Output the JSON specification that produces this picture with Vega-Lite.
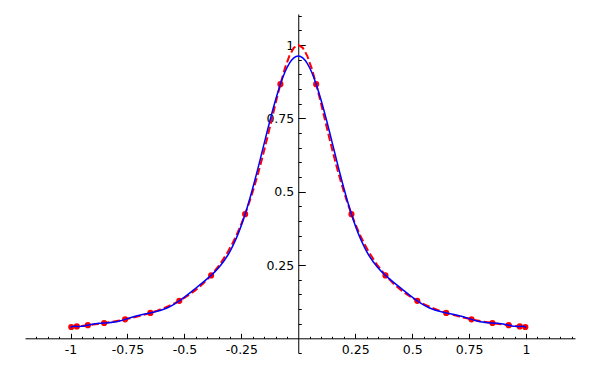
{
"$schema": "https://vega.github.io/schema/vega-lite/v6.json",
"width": 550,
"height": 339,
"autosize": {"type": "none"},
"padding": {"left": 25, "top": 14, "right": 25, "bottom": 17},
"config": {"view": {"stroke": null}, "axis": {"grid": false, "domainColor": "black", "tickColor": "black", "labelColor": "black", "labelFont": "DejaVu Sans", "labelFontSize": 12.5, "title": null, "zindex": 1, "domainWidth": 1, "tickWidth": 1}},
"datasets": {
"runge": [
{"x":-1,"y":0.0385},{"x":-0.9992,"y":0.0385},{"x":-0.9969,"y":0.0387},{"x":-0.9931,"y":0.039},{"x":-0.9877,"y":0.0394},{"x":-0.9808,"y":0.0399},{"x":-0.9724,"y":0.0406},{"x":-0.9625,"y":0.0414},{"x":-0.9511,"y":0.0424},{"x":-0.9382,"y":0.0435},{"x":-0.9239,"y":0.0448},{"x":-0.9081,"y":0.0463},{"x":-0.891,"y":0.048},{"x":-0.8725,"y":0.0499},{"x":-0.8526,"y":0.0522},{"x":-0.8315,"y":0.0547},{"x":-0.809,"y":0.0576},{"x":-0.7853,"y":0.0609},{"x":-0.7604,"y":0.0647},{"x":-0.7343,"y":0.0691},{"x":-0.7071,"y":0.0741},{"x":-0.6788,"y":0.0799},{"x":-0.6494,"y":0.0866},{"x":-0.6191,"y":0.0945},{"x":-0.5878,"y":0.1038},{"x":-0.5556,"y":0.1147},{"x":-0.5225,"y":0.1278},{"x":-0.4886,"y":0.1435},{"x":-0.454,"y":0.1625},{"x":-0.4187,"y":0.1858},{"x":-0.3827,"y":0.2145},{"x":-0.3461,"y":0.2503},{"x":-0.309,"y":0.2952},{"x":-0.2903,"y":0.3219},{"x":-0.2714,"y":0.3519},{"x":-0.2525,"y":0.3855},{"x":-0.2334,"y":0.4233},{"x":-0.2143,"y":0.4655},{"x":-0.1951,"y":0.5124},{"x":-0.1758,"y":0.5641},{"x":-0.1564,"y":0.6204},{"x":-0.137,"y":0.6806},{"x":-0.1175,"y":0.7433},{"x":-0.098,"y":0.8063},{"x":-0.0785,"y":0.8666},{"x":-0.0589,"y":0.9203},{"x":-0.0393,"y":0.9629},{"x":-0.0196,"y":0.9905},
{"x":0,"y":1},
{"x":0.0196,"y":0.9905},{"x":0.0393,"y":0.9629},{"x":0.0589,"y":0.9203},{"x":0.0785,"y":0.8666},{"x":0.098,"y":0.8063},{"x":0.1175,"y":0.7433},{"x":0.137,"y":0.6806},{"x":0.1564,"y":0.6204},{"x":0.1758,"y":0.5641},{"x":0.1951,"y":0.5124},{"x":0.2143,"y":0.4655},{"x":0.2334,"y":0.4233},{"x":0.2525,"y":0.3855},{"x":0.2714,"y":0.3519},{"x":0.2903,"y":0.3219},{"x":0.309,"y":0.2952},{"x":0.3461,"y":0.2503},{"x":0.3827,"y":0.2145},{"x":0.4187,"y":0.1858},{"x":0.454,"y":0.1625},{"x":0.4886,"y":0.1435},{"x":0.5225,"y":0.1278},{"x":0.5556,"y":0.1147},{"x":0.5878,"y":0.1038},{"x":0.6191,"y":0.0945},{"x":0.6494,"y":0.0866},{"x":0.6788,"y":0.0799},{"x":0.7071,"y":0.0741},{"x":0.7343,"y":0.0691},{"x":0.7604,"y":0.0647},{"x":0.7853,"y":0.0609},{"x":0.809,"y":0.0576},{"x":0.8315,"y":0.0547},{"x":0.8526,"y":0.0522},{"x":0.8725,"y":0.0499},{"x":0.891,"y":0.048},{"x":0.9081,"y":0.0463},{"x":0.9239,"y":0.0448},{"x":0.9382,"y":0.0435},{"x":0.9511,"y":0.0424},{"x":0.9625,"y":0.0414},{"x":0.9724,"y":0.0406},{"x":0.9808,"y":0.0399},{"x":0.9877,"y":0.0394},{"x":0.9931,"y":0.039},{"x":0.9969,"y":0.0387},{"x":0.9992,"y":0.0385},{"x":1,"y":0.0385}
],
"interp": [
{"x":-1,"y":0.037},{"x":-0.9992,"y":0.0375},{"x":-0.9969,"y":0.0387},{"x":-0.9931,"y":0.04},{"x":-0.9877,"y":0.0409},{"x":-0.9808,"y":0.041},{"x":-0.9724,"y":0.0406},{"x":-0.9625,"y":0.0403},{"x":-0.9511,"y":0.0408},{"x":-0.9382,"y":0.0423},{"x":-0.9239,"y":0.0448},{"x":-0.9081,"y":0.0475},{"x":-0.891,"y":0.0498},{"x":-0.8725,"y":0.0512},{"x":-0.8526,"y":0.0522},{"x":-0.8315,"y":0.0532},{"x":-0.809,"y":0.0554},{"x":-0.7853,"y":0.0593},{"x":-0.7604,"y":0.0647},{"x":-0.7343,"y":0.0709},{"x":-0.7071,"y":0.0769},{"x":-0.6788,"y":0.082},{"x":-0.6494,"y":0.0866},{"x":-0.6191,"y":0.092},{"x":-0.5878,"y":0.0999},{"x":-0.5556,"y":0.1117},{"x":-0.5225,"y":0.1278},{"x":-0.4886,"y":0.1473},{"x":-0.454,"y":0.1686},{"x":-0.4187,"y":0.1907},{"x":-0.3827,"y":0.2145},{"x":-0.3461,"y":0.2437},{"x":-0.309,"y":0.2841},{"x":-0.2903,"y":0.3107},{"x":-0.2714,"y":0.3425},{"x":-0.2525,"y":0.38},{"x":-0.2334,"y":0.4233},{"x":-0.2143,"y":0.4722},{"x":-0.1951,"y":0.526},{"x":-0.1758,"y":0.5837},{"x":-0.1564,"y":0.6437},{"x":-0.137,"y":0.7042},{"x":-0.1175,"y":0.763},{"x":-0.098,"y":0.8179},{"x":-0.0785,"y":0.8666},{"x":-0.0589,"y":0.907},{"x":-0.0393,"y":0.9373},{"x":-0.0196,"y":0.9561},
{"x":0,"y":0.9624},
{"x":0.0196,"y":0.9561},{"x":0.0393,"y":0.9373},{"x":0.0589,"y":0.907},{"x":0.0785,"y":0.8666},{"x":0.098,"y":0.8179},{"x":0.1175,"y":0.763},{"x":0.137,"y":0.7042},{"x":0.1564,"y":0.6437},{"x":0.1758,"y":0.5837},{"x":0.1951,"y":0.526},{"x":0.2143,"y":0.4722},{"x":0.2334,"y":0.4233},{"x":0.2525,"y":0.38},{"x":0.2714,"y":0.3425},{"x":0.2903,"y":0.3107},{"x":0.309,"y":0.2841},{"x":0.3461,"y":0.2437},{"x":0.3827,"y":0.2145},{"x":0.4187,"y":0.1907},{"x":0.454,"y":0.1686},{"x":0.4886,"y":0.1473},{"x":0.5225,"y":0.1278},{"x":0.5556,"y":0.1117},{"x":0.5878,"y":0.0999},{"x":0.6191,"y":0.092},{"x":0.6494,"y":0.0866},{"x":0.6788,"y":0.082},{"x":0.7071,"y":0.0769},{"x":0.7343,"y":0.0709},{"x":0.7604,"y":0.0647},{"x":0.7853,"y":0.0593},{"x":0.809,"y":0.0554},{"x":0.8315,"y":0.0532},{"x":0.8526,"y":0.0522},{"x":0.8725,"y":0.0512},{"x":0.891,"y":0.0498},{"x":0.9081,"y":0.0475},{"x":0.9239,"y":0.0448},{"x":0.9382,"y":0.0423},{"x":0.9511,"y":0.0408},{"x":0.9625,"y":0.0403},{"x":0.9724,"y":0.0406},{"x":0.9808,"y":0.041},{"x":0.9877,"y":0.0409},{"x":0.9931,"y":0.04},{"x":0.9969,"y":0.0387},{"x":0.9992,"y":0.0375},{"x":1,"y":0.037}
],
"nodes": [
{"x":-0.9969,"y":0.0387},{"x":-0.9724,"y":0.0406},{"x":-0.9239,"y":0.0448},{"x":-0.8526,"y":0.0522},{"x":-0.7604,"y":0.0647},{"x":-0.6494,"y":0.0866},{"x":-0.5225,"y":0.1278},{"x":-0.3827,"y":0.2145},{"x":-0.2334,"y":0.4233},{"x":-0.0785,"y":0.8666},
{"x":0.0785,"y":0.8666},{"x":0.2334,"y":0.4233},{"x":0.3827,"y":0.2145},{"x":0.5225,"y":0.1278},{"x":0.6494,"y":0.0866},{"x":0.7604,"y":0.0647},{"x":0.8526,"y":0.0522},{"x":0.9239,"y":0.0448},{"x":0.9724,"y":0.0406},{"x":0.9969,"y":0.0387}
]
},
"layer": [
{
"data": {"name": "runge"},
"mark": {"type": "line", "color": "#ff0000", "strokeWidth": 2, "strokeDash": [7.4, 3.2]},
"encoding": {
"x": {"field": "x", "type": "quantitative", "scale": {"domain": [-1.2, 1.215], "nice": false, "zero": false},
"axis": {"orient": "bottom", "offset": -14.7, "values": [-1, -0.75, -0.5, -0.25, 0.25, 0.5, 0.75, 1], "tickSize": -5, "labelPadding": 10.5, "labelExpr": "toString(datum.value)", "labelFlush": false, "labelOverlap": false}},
"y": {"field": "y", "type": "quantitative", "scale": {"domain": [-0.05, 1.1057], "nice": false, "zero": false},
"axis": {"orient": "left", "offset": -273.25, "values": [0.25, 0.5, 0.75, 1], "tickSize": -7, "labelPadding": 11.5, "labelExpr": "toString(datum.value)", "labelFlush": false, "labelOverlap": false}}
}
},
{
"data": {"name": "nodes"},
"mark": {"type": "circle", "color": "#ff0000", "opacity": 1, "size": 38},
"encoding": {
"x": {"field": "x", "type": "quantitative", "scale": {"domain": [-1.2, 1.215], "nice": false, "zero": false}, "axis": null},
"y": {"field": "y", "type": "quantitative", "scale": {"domain": [-0.05, 1.1057], "nice": false, "zero": false}, "axis": null}
}
},
{
"data": {"name": "interp"},
"mark": {"type": "line", "color": "#0000ff", "strokeWidth": 1.5, "interpolate": "natural"},
"encoding": {
"x": {"field": "x", "type": "quantitative", "scale": {"domain": [-1.2, 1.215], "nice": false, "zero": false},
"axis": {"orient": "bottom", "offset": -14.7, "values": [-1.15, -1.1, -1.05, -0.95, -0.9, -0.85, -0.8, -0.7, -0.65, -0.6, -0.55, -0.45, -0.4, -0.35, -0.3, -0.2, -0.15, -0.1, -0.05, 0.05, 0.1, 0.15, 0.2, 0.3, 0.35, 0.4, 0.45, 0.55, 0.6, 0.65, 0.7, 0.8, 0.85, 0.9, 0.95, 1.05, 1.1, 1.15, 1.2], "tickSize": -2, "labels": false, "domain": false}},
"y": {"field": "y", "type": "quantitative", "scale": {"domain": [-0.05, 1.1057], "nice": false, "zero": false},
"axis": {"orient": "left", "offset": -273.25, "values": [-0.05, 0.05, 0.1, 0.15, 0.2, 0.3, 0.35, 0.4, 0.45, 0.55, 0.6, 0.65, 0.7, 0.8, 0.85, 0.9, 0.95, 1.05, 1.1], "tickSize": -3, "labels": false, "domain": false}}
}
}
],
"resolve": {"axis": {"x": "independent", "y": "independent"}}
}
